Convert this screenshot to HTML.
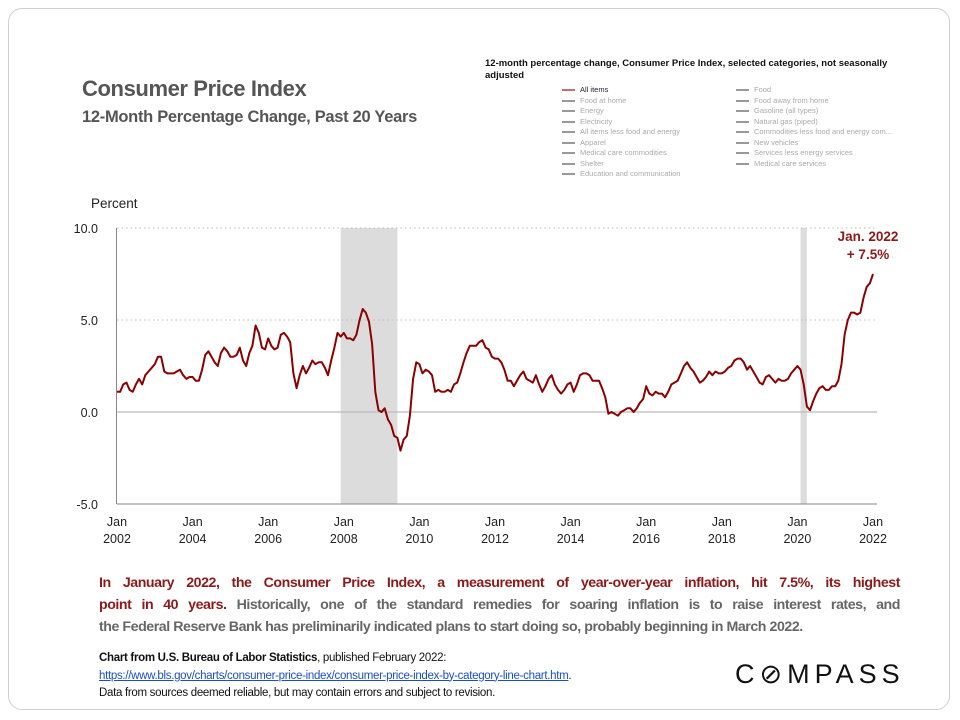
<!DOCTYPE html>
<html><head><meta charset="utf-8"><style>
body{margin:0;width:960px;height:720px;background:#fff;font-family:"Liberation Sans",sans-serif;position:relative;overflow:hidden}
.abs{position:absolute}
#card{left:8px;top:8px;width:942px;height:702px;border:1px solid #cfcfcf;border-radius:14px;box-sizing:border-box}
#title{left:82px;top:76px;font-size:22px;font-weight:bold;color:#555;letter-spacing:-0.4px}
#subtitle{left:82px;top:108px;font-size:16.5px;font-weight:bold;color:#555;letter-spacing:-0.3px}
#legtitle{left:485px;top:58px;font-size:9.5px;font-weight:bold;color:#111;width:420px;line-height:12px}
.leg{font-size:7.5px;color:#aaa;position:absolute;white-space:nowrap}
.leg i{display:inline-block;width:13px;height:2px;background:#999;vertical-align:middle;margin-right:5px}
#para{left:99px;top:572px;width:801px;font-size:14.2px;line-height:22px;color:#666;font-weight:bold;letter-spacing:-0.45px}
#para div{white-space:nowrap;text-align:justify;text-align-last:justify}
#para div.last{text-align-last:left}
#para b{color:#8b1a1a}
#src{left:99px;top:650px;font-size:11.5px;line-height:17.5px;color:#111;letter-spacing:-0.3px}
#logo{left:735px;top:659px;font-size:27px;letter-spacing:5px;color:#111}
</style></head><body>
<div id="card" class="abs"></div>
<div id="title" class="abs">Consumer Price Index</div>
<div id="subtitle" class="abs">12-Month Percentage Change, Past 20 Years</div>
<div id="legtitle" class="abs">12-month percentage change, Consumer Price Index, selected categories, not seasonally adjusted</div>
<div>
<div class="leg" style="left:562px;top:85px;color:#223" ><i style="background:#c07070"></i>All items</div>
<div class="leg" style="left:562px;top:95.5px"><i></i>Food at home</div>
<div class="leg" style="left:562px;top:106px"><i></i>Energy</div>
<div class="leg" style="left:562px;top:116.5px"><i></i>Electricity</div>
<div class="leg" style="left:562px;top:127px"><i></i>All items less food and energy</div>
<div class="leg" style="left:562px;top:137.5px"><i></i>Apparel</div>
<div class="leg" style="left:562px;top:148px"><i></i>Medical care commodities</div>
<div class="leg" style="left:562px;top:158.5px"><i></i>Shelter</div>
<div class="leg" style="left:562px;top:169px"><i></i>Education and communication</div>
<div class="leg" style="left:736px;top:85px"><i></i>Food</div>
<div class="leg" style="left:736px;top:95.5px"><i></i>Food away from home</div>
<div class="leg" style="left:736px;top:106px"><i></i>Gasoline (all types)</div>
<div class="leg" style="left:736px;top:116.5px"><i></i>Natural gas (piped)</div>
<div class="leg" style="left:736px;top:127px"><i></i>Commodities less food and energy com...</div>
<div class="leg" style="left:736px;top:137.5px"><i></i>New vehicles</div>
<div class="leg" style="left:736px;top:148px"><i></i>Services less energy services</div>
<div class="leg" style="left:736px;top:158.5px"><i></i>Medical care services</div>
</div>
<svg class="abs" style="left:0;top:0" width="960" height="560" id="chart"></svg>
<div id="para" class="abs">
<div><b>In January 2022, the Consumer Price Index, a measurement of year-over-year inflation, hit 7.5%, its highest</b></div>
<div><b>point in 40 years.</b> Historically, one of the standard remedies for soaring inflation is to raise interest rates, and</div>
<div class="last">the Federal Reserve Bank has preliminarily indicated plans to start doing so, probably beginning in March 2022.</div>
</div>
<div id="src" class="abs"><b>Chart from U.S. Bureau of Labor Statistics</b>, published February 2022:<br><span style="color:#1a4fc4;text-decoration:underline">https://www.bls.gov/charts/consumer-price-index/consumer-price-index-by-category-line-chart.htm</span>.<br>Data from sources deemed reliable, but may contain errors and subject to revision.</div>
<div id="logo" class="abs">C&#8856;MPASS</div>
<script>
const cpiValues=[
1.1,1.1,1.5,1.6,1.2,1.1,1.5,1.8,1.5,2.0,2.2,2.4,
2.6,3.0,3.0,2.2,2.1,2.1,2.1,2.2,2.3,2.0,1.8,1.9,
1.9,1.7,1.7,2.3,3.1,3.3,3.0,2.7,2.5,3.2,3.5,3.3,
3.0,3.0,3.1,3.5,2.8,2.5,3.2,3.6,4.7,4.3,3.5,3.4,
4.0,3.6,3.4,3.5,4.2,4.3,4.1,3.8,2.1,1.3,2.0,2.5,
2.1,2.4,2.8,2.6,2.7,2.7,2.4,2.0,2.8,3.5,4.3,4.1,
4.3,4.0,4.0,3.9,4.2,5.0,5.6,5.4,4.9,3.7,1.1,0.1,
0.0,0.2,-0.4,-0.7,-1.3,-1.4,-2.1,-1.5,-1.3,-0.2,1.8,2.7,
2.6,2.1,2.3,2.2,2.0,1.1,1.2,1.1,1.1,1.2,1.1,1.5,
1.6,2.1,2.7,3.2,3.6,3.6,3.6,3.8,3.9,3.5,3.4,3.0,
2.9,2.9,2.7,2.3,1.7,1.7,1.4,1.7,2.0,2.2,1.8,1.7,
1.6,2.0,1.5,1.1,1.4,1.8,2.0,1.5,1.2,1.0,1.2,1.5,
1.6,1.1,1.5,2.0,2.1,2.1,2.0,1.7,1.7,1.7,1.3,0.8,
-0.1,0.0,-0.1,-0.2,0.0,0.1,0.2,0.2,0.0,0.2,0.5,0.7,
1.4,1.0,0.9,1.1,1.0,1.0,0.8,1.1,1.5,1.6,1.7,2.1,
2.5,2.7,2.4,2.2,1.9,1.6,1.7,1.9,2.2,2.0,2.2,2.1,
2.1,2.2,2.4,2.5,2.8,2.9,2.9,2.7,2.3,2.5,2.2,1.9,
1.6,1.5,1.9,2.0,1.8,1.6,1.8,1.7,1.7,1.8,2.1,2.3,
2.5,2.3,1.5,0.3,0.1,0.6,1.0,1.3,1.4,1.2,1.2,1.4,
1.4,1.7,2.6,4.2,5.0,5.4,5.4,5.3,5.4,6.2,6.8,7.0,
7.5];
const startYear=2002;
const yTicks=[10,5,0,-5];
const yTickLabels=["10.0","5.0","0.0","-5.0"];
const xTickYears=[2002,2004,2006,2008,2010,2012,2014,2016,2018,2020,2022];
const recessions=[[2007+11/12,2009+5/12],[2020+1/12,2020+3/12]];
const annotationLines=["Jan. 2022","+ 7.5%"];

const NS="http://www.w3.org/2000/svg";
const svg=document.getElementById('chart');
const X0=117,X1=873,Y0=412,PX=18.4;
const xs=t=>X0+(t-2002)*(X1-X0)/20;
const ys=v=>Y0-v*PX;
function mk(tag,attrs){const e=document.createElementNS(NS,tag);for(const k in attrs)e.setAttribute(k,attrs[k]);svg.appendChild(e);return e;}
recessions.forEach(r=>{const e=mk('rect',{x:xs(r[0]),y:ys(10),width:Math.max(xs(r[1])-xs(r[0]),6),height:ys(-5)-ys(10),fill:'#dcdcdc'});

});
yTicks.forEach((v,i)=>{
 if(v!==-5&&v!==0){const g=mk('line',{x1:X0,x2:X1+4,y1:ys(v),y2:ys(v),stroke:'#bbb','stroke-dasharray':'1.5,3'});
 
 }
 const t=mk('text',{x:98,y:ys(v)+5,'text-anchor':'end','font-size':'12.5',fill:'#222'});t.textContent=yTickLabels[i];
 
 
});
const zl=mk('line',{x1:X0,x2:X1+4,y1:ys(0),y2:ys(0),stroke:'#bbb','stroke-width':1.2});


const ya=mk('line',{x1:X0-0.5,x2:X0-0.5,y1:ys(10),y2:ys(-5),stroke:'#888'});


const xa=mk('line',{x1:X0,x2:X1+4,y1:ys(-5),y2:ys(-5),stroke:'#888'});


const pt=mk('text',{x:91,y:208,'font-size':'13.5',fill:'#222'});pt.textContent='Percent';


xTickYears.forEach(yr=>{
 const t=mk('text',{x:xs(yr),y:526,'text-anchor':'middle','font-size':'12.5',fill:'#222'});t.textContent='Jan';
 
 
 const t2=mk('text',{x:xs(yr),y:543,'text-anchor':'middle','font-size':'12.5',fill:'#222'});t2.textContent=yr;
 
 
});
const d=cpiValues.map((v,i)=>(i?'L':'M')+xs(startYear+i/12).toFixed(1)+','+ys(v).toFixed(1)).join('');
const line=mk('path',{d:d,fill:'none',stroke:'#8b0000','stroke-width':2,'stroke-linejoin':'round'});


annotationLines.forEach((s,i)=>{const t=mk('text',{x:868,y:241+i*18,'text-anchor':'middle','font-size':'13.5','font-weight':'bold',fill:'#8b1a1a'});t.textContent=s;
 
 });
</script>
</body></html>
